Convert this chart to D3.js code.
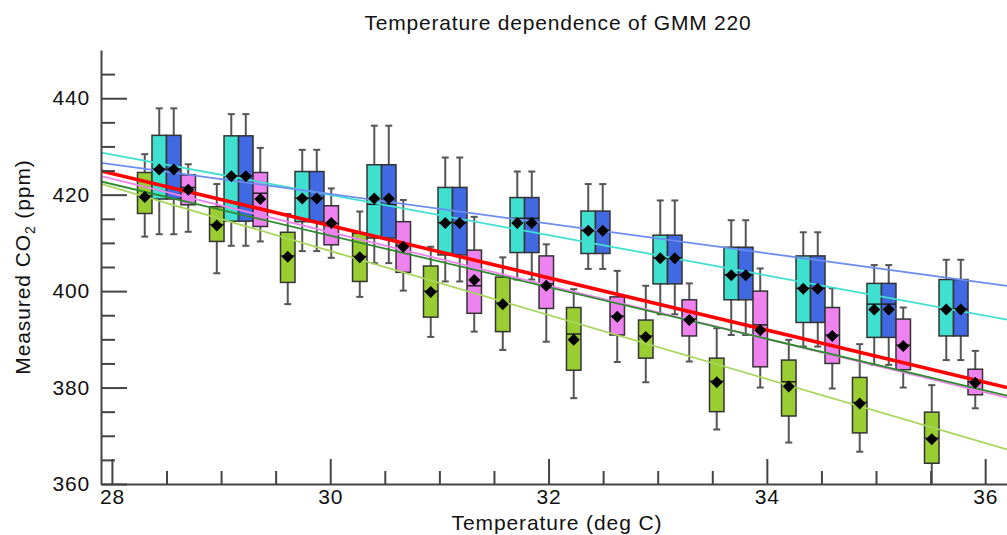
<!DOCTYPE html>
<meta charset="utf-8">
<style>
body { margin: 0; background: #fff; }
svg { display: block; font-family: "Liberation Sans", Arial, sans-serif; }
.axis path, .axis line { stroke: #444; stroke-width: 2px; }
.axis text { font-size: 21px; fill: #111; letter-spacing: 0.8px; }
.title { font-size: 21px; fill: #111; text-anchor: middle; letter-spacing: 0.8px; }
.label { font-size: 21px; fill: #111; text-anchor: middle; letter-spacing: 0.9px; }
.whisker { stroke: #555; stroke-width: 2px; }
.box rect { stroke: #333; stroke-width: 1.5px; }
.median { stroke: #222; stroke-width: 1.5px; }
.fit { fill: none; }
</style>
<svg width="1007" height="535"></svg>
<script src="https://cdn.jsdelivr.net/npm/d3@7"></script>
<script>

// group temperatures (deg C), one box per sensor at each
var temps = [28.5, 29.16, 29.81, 30.47, 31.12, 31.78, 32.43, 33.09, 33.74, 34.4, 35.05, 35.71];

var series = ["green", "cyan", "blue", "magenta"];

// rows: [low whisker, q1, median, q3, high whisker, mean]
var greenBoxes = [
  [411.3, 416.1, 419.8, 424.6, 428.4, 419.5],
  [403.7, 410.3, 413.8, 417.5, 422.2, 413.6],
  [397.3, 401.8, 407.3, 412.2, 416.0, 407.1],
  [398.8, 402.0, 407.2, 412.0, 416.5, 407.0],
  [390.5, 394.6, 400.0, 405.2, 409.2, 399.8],
  [387.8, 391.6, 397.5, 402.9, 407.0, 397.3],
  [377.8, 383.6, 391.1, 396.6, 400.4, 389.9],
  [381.1, 386.1, 390.7, 394.0, 401.1, 390.5],
  [371.3, 375.0, 381.3, 386.1, 392.3, 381.1],
  [368.6, 374.1, 381.2, 385.7, 389.9, 380.2],
  [366.7, 370.6, 376.9, 382.1, 389.0, 376.7],
  [358.0, 364.3, 369.5, 374.9, 380.5, 369.3]
];

var cyanBoxes = [
  [411.8, 419.1, 425.3, 432.3, 437.9, 425.2],
  [409.4, 414.5, 423.9, 432.2, 436.7, 423.8],
  [408.3, 414.4, 419.3, 424.8, 429.3, 419.2],
  [405.8, 411.0, 418.0, 426.2, 434.3, 419.2],
  [402.0, 407.5, 414.2, 421.5, 427.7, 414.1],
  [402.4, 408.0, 415.1, 419.4, 424.8, 414.1],
  [404.6, 407.8, 412.6, 416.6, 422.2, 412.5],
  [395.2, 401.5, 406.9, 411.6, 418.8, 406.8],
  [390.9, 398.2, 403.4, 409.1, 414.7, 403.3],
  [388.5, 393.5, 400.6, 407.3, 412.2, 400.5],
  [384.7, 390.4, 397.3, 401.6, 405.4, 396.2],
  [385.7, 390.7, 396.3, 402.4, 406.5, 396.2]
];

var blueBoxes = [
  [411.8, 419.1, 425.3, 432.3, 437.9, 425.2],
  [409.4, 414.5, 423.9, 432.2, 436.7, 423.8],
  [408.3, 414.4, 419.3, 424.8, 429.3, 419.2],
  [405.8, 411.0, 418.0, 426.2, 434.3, 419.2],
  [402.0, 407.5, 414.2, 421.5, 427.7, 414.1],
  [402.4, 408.0, 415.1, 419.4, 424.8, 414.1],
  [404.6, 407.8, 412.6, 416.6, 422.2, 412.5],
  [395.2, 401.5, 406.9, 411.6, 418.8, 406.8],
  [390.9, 398.2, 403.4, 409.1, 414.7, 403.3],
  [388.5, 393.5, 400.6, 407.3, 412.2, 400.5],
  [384.7, 390.4, 397.3, 401.6, 405.4, 396.2],
  [385.7, 390.7, 396.3, 402.4, 406.5, 396.2]
];

var magentaBoxes = [
  [412.3, 417.9, 421.5, 424.1, 426.3, 421.0],
  [410.3, 413.4, 420.3, 424.6, 429.7, 419.1],
  [406.9, 409.6, 414.0, 417.7, 421.3, 414.1],
  [400.1, 403.9, 409.5, 414.4, 418.9, 409.2],
  [391.6, 395.4, 401.1, 408.5, 415.4, 402.3],
  [389.5, 396.4, 401.5, 407.3, 409.7, 401.1],
  [385.3, 390.9, 394.8, 398.8, 404.2, 394.7],
  [385.4, 390.7, 394.2, 398.2, 401.6, 394.0],
  [380.0, 384.3, 393.0, 400.0, 404.7, 391.9],
  [379.8, 385.0, 390.9, 396.6, 400.6, 390.7],
  [380.0, 383.7, 388.8, 394.2, 396.6, 388.6],
  [375.7, 378.5, 381.2, 383.8, 387.6, 381.0]
];

// fitted lines: CO2 at 28 and at 36 deg C
var fitNames = ["cyan", "blue", "violet", "forest", "yellowgreen", "all"];
var fitAt28 = [428.3, 426.3, 423.3, 422.2, 421.6, 424.4];
var fitAt36 = [394.9, 401.7, 379.0, 379.4, 368.5, 381.1];

var xMajor = [28, 30, 32, 34, 36];
var yMajor = [360, 380, 400, 420, 440];

var fill = {green: "#9acd32", cyan: "#40e0d0", blue: "#4169e1", magenta: "#ee82ee"};
var fitColor = {cyan: "#40e0d0", blue: "#6b8cf0", violet: "#ee82ee", forest: "#2e8b2e",
                yellowgreen: "#a6d65a", all: "#ff0000"};

var svg = d3.select("svg");

var x = d3.scaleLinear().domain([27.9, 36.2]).range([101, 1007]),
    y = d3.scaleLinear().domain([360, 450]).range([484, 50]);

var dodge = d3.scaleBand().domain(series).range([-29, 29]).paddingInner(0);

svg.append("clipPath").attr("id", "plot")
  .append("rect").attr("x", 101).attr("y", 50).attr("width", 906).attr("height", 434);

var plot = svg.append("g").attr("clip-path", "url(#plot)");

var boxes = [];
[greenBoxes, cyanBoxes, blueBoxes, magentaBoxes].forEach(function(rows, s) {
  rows.forEach(function(r, i) {
    boxes.push({series: series[s], t: temps[i], lo: r[0], q1: r[1], med: r[2], q3: r[3], hi: r[4], mean: r[5]});
  });
});

var bw = dodge.bandwidth(), cap = 7;
function cx(d) { return x(d.t) + dodge(d.series) + bw / 2; }

var box = plot.selectAll(".box")
    .data(boxes)
  .enter().append("g")
    .attr("class", "box");

box.append("line").attr("class", "whisker")
    .attr("x1", cx).attr("x2", cx)
    .attr("y1", function(d) { return y(d.hi); })
    .attr("y2", function(d) { return y(d.lo); });

box.append("line").attr("class", "whisker")
    .attr("x1", function(d) { return cx(d) - cap / 2; })
    .attr("x2", function(d) { return cx(d) + cap / 2; })
    .attr("y1", function(d) { return y(d.hi); })
    .attr("y2", function(d) { return y(d.hi); });

box.append("line").attr("class", "whisker")
    .attr("x1", function(d) { return cx(d) - cap / 2; })
    .attr("x2", function(d) { return cx(d) + cap / 2; })
    .attr("y1", function(d) { return y(d.lo); })
    .attr("y2", function(d) { return y(d.lo); });

box.append("rect")
    .attr("x", function(d) { return cx(d) - bw / 2; })
    .attr("y", function(d) { return y(d.q3); })
    .attr("width", bw)
    .attr("height", function(d) { return y(d.q1) - y(d.q3); })
    .attr("fill", function(d) { return fill[d.series]; });

box.append("line").attr("class", "median")
    .attr("x1", function(d) { return cx(d) - bw / 2; })
    .attr("x2", function(d) { return cx(d) + bw / 2; })
    .attr("y1", function(d) { return y(d.med); })
    .attr("y2", function(d) { return y(d.med); });

// regression lines
var fits = fitNames.map(function(n, i) {
  var f = d3.scaleLinear().domain([28, 36]).range([fitAt28[i], fitAt36[i]]);
  return {name: n, pts: x.domain().map(function(t) { return [t, f(t)]; })};
});

var line = d3.line().x(function(p) { return x(p[0]); }).y(function(p) { return y(p[1]); });

plot.selectAll(".fit")
    .data(fits)
  .enter().append("path")
    .attr("class", "fit")
    .attr("d", function(d) { return line(d.pts); })
    .style("stroke", function(d) { return fitColor[d.name]; })
    .style("stroke-width", function(d) { return d.name === "all" ? "3.5px" : "1.8px"; });

// means
var diamond = d3.symbol().type(d3.symbolSquare).size(72);
plot.selectAll(".mean")
    .data(boxes)
  .enter().append("path")
    .attr("class", "mean")
    .attr("d", diamond)
    .attr("fill", "#000")
    .attr("transform", function(d) { return "translate(" + cx(d) + "," + y(d.mean) + ") rotate(45)"; });

// axes
var xMinor = d3.range(28.5, 36.01, 0.5).filter(function(v) { return xMajor.indexOf(v) < 0; }),
    yMinor = d3.range(365, 446, 5).filter(function(v) { return yMajor.indexOf(v) < 0; });

svg.append("g").attr("class", "axis")
    .attr("transform", "translate(0,484)")
    .call(d3.axisBottom(x).tickValues(xMinor).tickSize(-13).tickFormat(""))
    .select(".domain").remove();

svg.append("g").attr("class", "axis")
    .attr("transform", "translate(0,484)")
    .call(d3.axisBottom(x).tickValues(xMajor).tickSize(-25).tickSizeOuter(0).tickPadding(5));

svg.append("g").attr("class", "axis")
    .attr("transform", "translate(101,0)")
    .call(d3.axisLeft(y).tickValues(yMinor).tickSize(-14).tickFormat(""))
    .select(".domain").remove();

svg.append("g").attr("class", "axis")
    .attr("transform", "translate(101,0)")
    .call(d3.axisLeft(y).tickValues(yMajor).tickSize(-26).tickSizeOuter(0).tickPadding(11));

svg.selectAll(".axis").attr("font-family", null).attr("font-size", null);

// titles
svg.append("text").attr("class", "title")
    .attr("x", 558).attr("y", 30)
    .text("Temperature dependence of GMM 220");

svg.append("text").attr("class", "label")
    .attr("x", 557).attr("y", 530)
    .text("Temperature (deg C)");

var yl = svg.append("text").attr("class", "label")
    .attr("transform", "translate(30,267) rotate(-90)");
yl.append("tspan").text("Measured CO");
yl.append("tspan").attr("font-size", "14px").attr("dy", 5).text("2");
yl.append("tspan").attr("dy", -5).text(" (ppm)");

</script>
